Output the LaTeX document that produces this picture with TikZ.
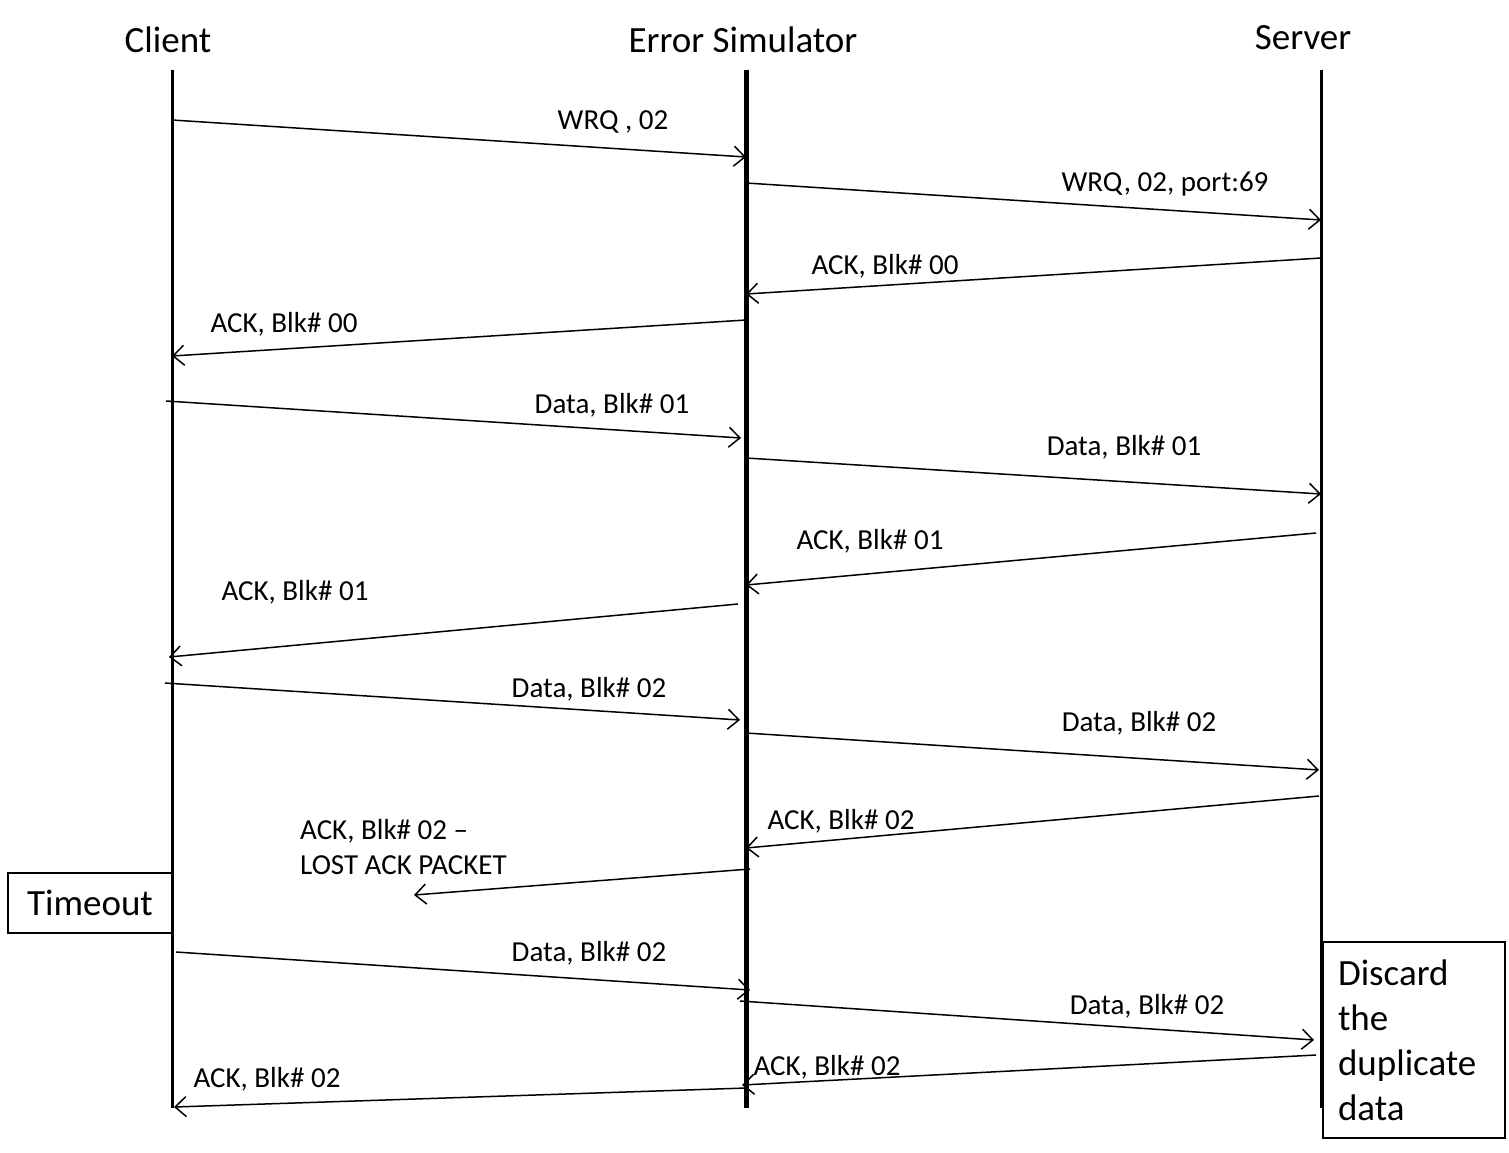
\documentclass[tikz,border=0pt]{standalone}
\usepackage{fontspec}
\setmainfont{Carlito}
\usetikzlibrary{arrows.meta}
\begin{document}
\begin{tikzpicture}[x=1pt,y=-1pt,
 msg/.style={line width=1.5pt, -{Straight Barb[length=11pt,width=20pt,line width=1.5pt]}},
 lbl/.style={font=\fontsize{29}{35}\selectfont, inner sep=0pt, anchor=base},
 ttl/.style={font=\fontsize{37}{44}\selectfont, inner sep=0pt, anchor=base},
 life/.style={line width=3pt},
 midlife/.style={line width=5pt},
 boxed/.style={draw, line width=2pt, font=\fontsize{37}{45}\selectfont}]
\useasboundingbox (0,0) rectangle (1509,1152);
% titles
\node[ttl] (tclient) at (168,52) {Client};
\node[ttl] (terr) at (743,52) {Error Simulator};
\node[ttl] (tserver) at (1303,49) {Server};
% lifelines
\coordinate (cTop) at (172,70); \coordinate (cBot) at (172,1108);
\coordinate (eTop) at (746,70); \coordinate (eBot) at (746,1108);
\coordinate (sTop) at (1321,70); \coordinate (sBot) at (1321,1108);
\draw[life] (cTop) -- (cBot);
\draw[midlife] (eTop) -- (eBot);
\draw[life] (sTop) -- (sBot);
% boxes
\node[boxed, minimum width=164pt, minimum height=60pt, inner sep=0pt, fill=white] (timeout) at (90,903) {Timeout};
\draw[life] (172,870) -- (172,936);
\node[boxed, anchor=north west, minimum width=182pt, minimum height=196pt, inner xsep=15pt, text width=152pt, align=left, fill=white] (discard) at (1322,941) {Discard\\the\\duplicate\\data};
% message endpoints
\coordinate (a1) at (172,120);  \coordinate (b1) at (746,157);
\coordinate (a2) at (746,183);  \coordinate (b2) at (1321,220);
\coordinate (a3) at (1321,258); \coordinate (b3) at (746,294);
\coordinate (a4) at (746,320);  \coordinate (b4) at (172,356);
\coordinate (a5) at (166,401);  \coordinate (b5) at (741,438);
\coordinate (a6) at (746,458);  \coordinate (b6) at (1321,494);
\coordinate (a7) at (1316,533); \coordinate (b7) at (746,585);
\coordinate (a8) at (738,604);  \coordinate (b8) at (169,657);
\coordinate (a9) at (165,683);  \coordinate (b9) at (740,720);
\coordinate (a10) at (746,733); \coordinate (b10) at (1319,770);
\coordinate (a11) at (1319,796);\coordinate (b11) at (746,848);
\coordinate (a12) at (750,869); \coordinate (b12) at (414,895);
\coordinate (a13) at (176,952); \coordinate (b13) at (750,990);
\coordinate (a14) at (740,1001);\coordinate (b14) at (1314,1040);
\coordinate (a15) at (1316,1055);\coordinate (b15) at (742,1085);
\coordinate (a16) at (746,1088);\coordinate (b16) at (174,1107);
\foreach \i in {1,...,16} {\draw[msg] (a\i) -- (b\i);}
% labels
\node[lbl] (l1) at (613,129) {WRQ , 02};
\node[lbl] (l2) at (1165,191) {WRQ, 02, port:69};
\node[lbl] (l3) at (885,274) {ACK, Blk\# 00};
\node[lbl] (l4) at (284,332) {ACK, Blk\# 00};
\node[lbl] (l5) at (612,413) {Data, Blk\# 01};
\node[lbl] (l6) at (1124,455) {Data, Blk\# 01};
\node[lbl] (l7) at (870,549) {ACK, Blk\# 01};
\node[lbl] (l8) at (295,600) {ACK, Blk\# 01};
\node[lbl] (l9) at (589,697) {Data, Blk\# 02};
\node[lbl] (l10) at (1139,731) {Data, Blk\# 02};
\node[lbl] (l11) at (841,829) {ACK, Blk\# 02};
\node[lbl, anchor=base west] (l12a) at (300,839) {ACK, Blk\# 02 –};
\node[lbl, anchor=base west] (l12b) at (300,874) {LOST ACK PACKET};
\node[lbl] (l13) at (589,961) {Data, Blk\# 02};
\node[lbl] (l14) at (1147,1014) {Data, Blk\# 02};
\node[lbl] (l15) at (827,1075) {ACK, Blk\# 02};
\node[lbl] (l16) at (267,1087) {ACK, Blk\# 02};
\end{tikzpicture}
\end{document}
